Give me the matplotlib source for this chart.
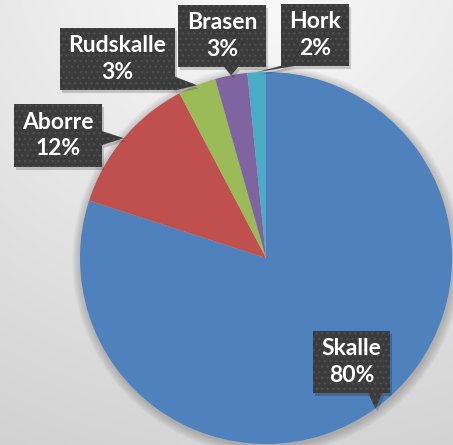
import numpy as np
import matplotlib
matplotlib.use("Agg")
import matplotlib.pyplot as plt
from matplotlib.patches import Rectangle, Polygon, Circle

# ---- data ----
categories = ["Skalle", "Aborre", "Rudskalle", "Brasen", "Hork"]
values = [80.0, 12.3, 3.3, 2.8, 1.6]
colors = ["#4F81BD", "#C0504D", "#9BBB59", "#8064A2", "#4BACC6"]

# label box centres (layout, data coords with y up, pixel-sized units)
label_pos = {
    "Skalle": (351.5, 83),
    "Aborre": (58, 309.5),
    "Rudskalle": (117.5, 386),
    "Brasen": (222, 409),
    "Hork": (315, 410),
}
pointer_side = {"Skalle": "bottom", "Aborre": "right", "Rudskalle": "right",
                "Brasen": "bottom", "Hork": "bottom"}

W, H = 453, 445
fig = plt.figure(figsize=(W / 100, H / 100), dpi=100)
ax = fig.add_axes([0, 0, 1, 1])
ax.set_xlim(0, W)
ax.set_ylim(0, H)
ax.axis("off")

# background gradient
yy, xx = np.mgrid[0:H, 0:W]
ty = yy / H
rad = np.sqrt(((xx - 260) / W) ** 2 + ((yy - 0) / H) ** 2)
v = 0.975 - 0.13 * np.clip(rad, 0, 1.2) / 1.2 - 0.03 * ty
bg = np.dstack([v, v, v])
ax.imshow(bg, extent=(0, W, 0, H), origin="upper", zorder=0, aspect="auto")

cx, cy, R = 266, 187, 186

# soft shadow
for k in range(10, 0, -1):
    ax.add_patch(Circle((cx + 1, cy - 2), R + k * 0.9, color="black",
                        alpha=0.018, lw=0, zorder=1))

wedges, _ = ax.pie(values, colors=colors, startangle=90, counterclock=False,
                   center=(cx, cy), radius=R, frame=False,
                   wedgeprops=dict(linewidth=0, zorder=2))
ax.set_xlim(0, W)
ax.set_ylim(0, H)
ax.set_aspect("auto")
for w in wedges:
    w.set_zorder(2)

total = sum(values)
fig.canvas.draw()
renderer = fig.canvas.get_renderer()

box_color = "#3B3B3B"
for w, name, val in zip(wedges, categories, values):
    mid = np.deg2rad((w.theta1 + w.theta2) / 2)
    tip = (cx + R * np.cos(mid), cy + R * np.sin(mid))
    lx, ly = label_pos[name]
    txt = ax.text(lx, ly, f"{name}\n{val / total * 100:.0f}%", ha="center",
                  va="center", color="white", fontsize=16.5, fontweight="bold",
                  family=["Lato", "DejaVu Sans"], linespacing=1.35, zorder=6)
    bb = txt.get_window_extent(renderer=renderer)
    tw, th = bb.width, bb.height
    bw, bh = tw + 17, th + 15
    x0, x1 = lx - bw / 2, lx + bw / 2
    y0, y1 = ly - bh / 2, ly + bh / 2
    hw = 7
    side = pointer_side[name]
    if side == "bottom":
        c = np.clip(tip[0], x0 + hw, x1 - hw)
        base = [(c - hw, y0 + 0.5), (c + hw, y0 + 0.5)]
    elif side == "right":
        c = np.clip(tip[1], y0 + hw, y1 - hw)
        base = [(x1 - 0.5, c - hw), (x1 - 0.5, c + hw)]
    else:
        c = np.clip(tip[1], y0 + hw, y1 - hw)
        base = [(x0 + 0.5, c - hw), (x0 + 0.5, c + hw)]
    tri = [base[0], tip, base[1]]
    # shadow
    ax.add_patch(Rectangle((x0 + 2, y0 - 3), bw, bh, color="black", alpha=0.18,
                           lw=0, zorder=4))
    ax.add_patch(Polygon([(p[0] + 2, p[1] - 3) for p in tri], color="black",
                         alpha=0.18, lw=0, zorder=4))
    ax.add_patch(Rectangle((x0, y0), bw, bh, facecolor=box_color,
                           edgecolor="#4E4E4E", lw=0, hatch="...", zorder=5))
    ax.add_patch(Polygon(tri, facecolor=box_color, edgecolor="#4E4E4E", lw=0,
                         hatch="...", zorder=5))

fig.savefig("out.png", dpi=100)
